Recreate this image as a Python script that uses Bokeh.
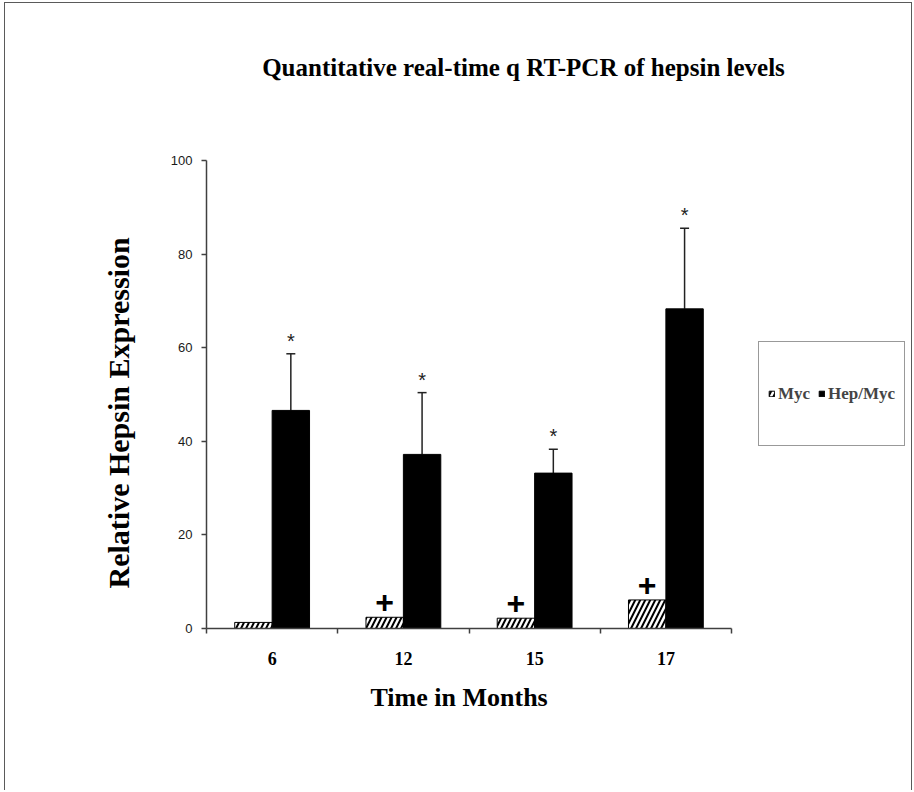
import numpy as np
from bokeh.plotting import figure
from bokeh.models import (ColumnDataSource, Range1d, FixedTicker, LinearAxis, Label, Title,
                          Legend, LegendItem, Whisker, TeeHead, CDSView, BooleanFilter)
from bokeh.core.properties import value
from bokeh.embed import file_html
from bokeh.resources import INLINE

# ---- data ----
months = ["6", "12", "15", "17"]
myc = [1.3, 2.4, 2.2, 6.1]
hep_myc = [46.6, 37.2, 33.2, 68.3]
hep_err = [12.1, 13.2, 5.1, 17.2]
myc_marks = ["", "+", "+", "+"]
hep_marks = ["*", "*", "*", "*"]
y_ticks = [0, 20, 40, 60, 80, 100]

title_text = "Quantitative real-time q RT-PCR of hepsin levels"
x_title = "Time in Months"
y_title = "Relative Hepsin Expression"

# ---- layout (pixels) ----
plot_w, plot_h = 525, 468          # area covered by the axes
frame_w, frame_h = 703, 588        # frame also holds title and legend
n = len(months)
y_max = max(y_ticks)

bar_w = 0.285
centers = np.arange(n) + 0.5
source = ColumnDataSource(dict(
    x_myc=centers - bar_w / 2,
    x_hep=centers + bar_w / 2,
    myc=myc,
    hep=hep_myc,
    upper=np.array(hep_myc) + np.array(hep_err),
    myc_marks=myc_marks,
    hep_marks=hep_marks,
))

p = figure(frame_width=frame_w, frame_height=frame_h,
           x_range=Range1d(0, n * frame_w / plot_w),
           y_range=Range1d(0, y_max * frame_h / plot_h),
           output_backend="svg", toolbar_location=None, x_axis_type=None, y_axis_type=None,
           min_border_left=201, min_border_right=2, min_border_top=37, min_border_bottom=162,
           title=None)
p.outline_line_color = None
p.background_fill_color = "white"
p.border_fill_color = "white"
p.styles = {"border-style": "solid", "border-color": "#5a5a5a",
            "border-width": "1px 1px 0px 1px", "margin-left": "4px", "margin-top": "2px"}

axis_col = "#404040"

yaxis = LinearAxis(ticker=FixedTicker(ticks=y_ticks), bounds=(0, y_max),
                   axis_line_color=axis_col, axis_line_width=1.5,
                   major_tick_line_color=axis_col, major_tick_line_width=1.5,
                   major_tick_out=5, major_tick_in=0, minor_tick_out=0, minor_tick_in=0,
                   major_label_standoff=9, major_label_text_font="Liberation Sans",
                   major_label_text_font_size="13px", major_label_text_color="#1a1a1a")
p.add_layout(yaxis, "left")

xaxis_ticks = LinearAxis(ticker=FixedTicker(ticks=list(range(n + 1))), bounds=(0, n),
                         axis_line_color=axis_col, axis_line_width=1.5,
                         major_tick_line_color=axis_col, major_tick_line_width=1.5,
                         major_tick_out=5, major_tick_in=0, minor_tick_out=0, minor_tick_in=0,
                         major_label_text_font_size="1px", major_label_text_color=None,
                         major_label_standoff=0)
p.add_layout(xaxis_ticks, "below")

xaxis_labels = LinearAxis(ticker=FixedTicker(ticks=[float(c) for c in centers]), bounds=(0, n),
                          major_label_overrides={float(c): m for c, m in zip(centers, months)},
                          axis_line_color=None, major_tick_line_color=None,
                          major_tick_out=0, major_tick_in=0, minor_tick_out=0, minor_tick_in=0,
                          major_label_standoff=18, major_label_text_font="Liberation Serif",
                          major_label_text_font_style="bold", major_label_text_font_size="18px",
                          major_label_text_color="black")
p.add_layout(xaxis_labels, "below")

# axis titles as side-panel titles (offset lets them sit under / beside the plotted area)
p.add_layout(Title(text=x_title, align="left", offset=164, standoff=26,
                   text_font="Liberation Serif", text_font_style="bold",
                   text_font_size="26px", text_color="black"), "below")
p.add_layout(Title(text=y_title, align="left", offset=40, standoff=66,
                   text_font="Liberation Serif", text_font_style="bold",
                   text_font_size="30px", text_color="black"), "left")

r_myc = p.vbar(x="x_myc", top="myc", bottom=0, width=bar_w, source=source,
               fill_color="white", line_color="black", line_width=1,
               hatch_pattern="/", hatch_color="black", hatch_weight=2, hatch_scale=10)
r_hep = p.vbar(x="x_hep", top="hep", bottom=0, width=bar_w, source=source,
               fill_color="black", line_color="black", line_width=1)

whisker = Whisker(base="x_hep", lower="hep", upper="upper", source=source, dimension="height",
                  line_color="#222222", line_width=1.5,
                  upper_head=TeeHead(size=9, line_color="#222222", line_width=1.5),
                  lower_head=None)
p.add_layout(whisker)

p.text(x="x_hep", y="upper", text="hep_marks", source=source, text_align="center",
       text_baseline="middle", y_offset=-13, text_font=value("Liberation Sans"),
       text_font_size="20px", text_color="#222222")
plus_view = CDSView(filter=BooleanFilter([m != "" for m in myc_marks]))
p.text(x="x_myc", y="myc", text="myc_marks", source=source, view=plus_view, text_align="center",
       text_baseline="middle", y_offset=-15, text_font=value("Liberation Sans"),
       text_font_style="bold", text_font_size="32px", text_color="black")

p.add_layout(Label(x=317, y=561, x_units="screen", y_units="screen", text=title_text,
                   text_align="center", text_baseline="middle", text_font="Liberation Serif",
                   text_font_style="bold", text_font_size="25px", text_color="black"))

legend = Legend(items=[LegendItem(label="Myc", renderers=[r_myc]),
                       LegendItem(label="Hep/Myc", renderers=[r_hep])],
                orientation="horizontal", location=(552, 182),
                border_line_color="#333333", border_line_width=1.5,
                background_fill_color="white", background_fill_alpha=1.0,
                label_text_font="Liberation Serif", label_text_font_style="bold",
                label_text_font_size="17px", glyph_width=7, glyph_height=7,
                label_standoff=3, spacing=8, padding=9, label_height=85, margin=0)
p.add_layout(legend, "center")

open("out.html", "w").write(file_html(p, INLINE))
